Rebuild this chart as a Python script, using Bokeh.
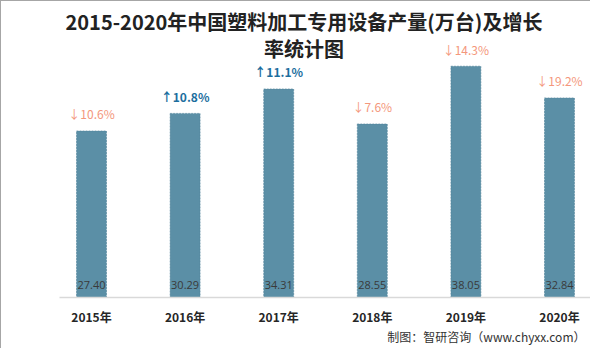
from bokeh.plotting import figure
from bokeh.models import ColumnDataSource, Range1d, Label, FactorRange, Title
from bokeh.core.properties import value
from bokeh.embed import file_html
from bokeh.resources import INLINE

years = ["2015年", "2016年", "2017年", "2018年", "2019年", "2020年"]
output = [27.40, 30.29, 34.31, 28.55, 38.05, 32.84]
growth = ["↓10.6%", "↑10.8%", "↑11.1%", "↓7.6%", "↓14.3%", "↓19.2%"]
growth_up = [False, True, True, False, False, False]

title1 = "2015-2020年中国塑料加工专用设备产量(万台)及增长"
title2 = "率统计图"
footer = "制图：智研咨询（www.chyxx.com）"

UP_COLOR = "#1c6e9e"
DOWN_COLOR = "#f4977c"

src = ColumnDataSource(dict(
    x=years,
    y=output,
    lab=["%.2f" % v for v in output],
    g=growth,
    gc=[UP_COLOR if u else DOWN_COLOR for u in growth_up],
    gw=["bold" if u else "normal" for u in growth_up],
))

xr = FactorRange(factors=years, range_padding=-0.158, range_padding_units="absolute")
p = figure(x_range=xr, y_range=Range1d(0, 48.7), width=590, height=348,
           output_backend="svg", toolbar_location=None,
           min_border_left=58, min_border_right=0, min_border_top=0, min_border_bottom=52)
p.outline_line_color = None
p.xgrid.grid_line_color = None
p.ygrid.grid_line_color = None
p.yaxis.visible = False
p.background_fill_color = "white"
p.border_fill_color = "white"
p.styles = {"border-left": "1px solid #a6a6a6", "border-top": "1px solid #a6a6a6"}

p.vbar(x="x", top="y", width=0.32, source=src, fill_color="#5b8fa6",
       line_color="#4f8299", line_dash="2 1", line_width=0.6)

p.text(x="x", y=0, text="lab", source=src, text_align="center", text_baseline="middle",
       y_offset=-13, text_font=value("Open Sans"), text_font_size="11px", text_color="#3a3a3a")

p.text(x="x", y="y", text="g", source=src, text_align="center", text_baseline="middle",
       y_offset=-17, text_font=value("Noto Sans CJK SC"), text_font_size="12px",
       text_color="gc", text_font_style="gw")

p.xaxis.axis_line_color = "#d9d9d9"
p.xaxis.axis_line_width = 1.5
p.xaxis.major_tick_line_color = None
p.xaxis.minor_tick_line_color = None
p.xaxis.major_tick_out = 0
p.xaxis.major_tick_in = 0
p.xaxis.major_label_standoff = 10
p.xaxis.major_label_text_font = "Noto Sans CJK SC"
p.xaxis.major_label_text_font_style = "bold"
p.xaxis.major_label_text_font_size = "12px"
p.xaxis.major_label_text_color = "#262626"

# title placed in the empty top area of the frame (x in synthetic category units)
p.add_layout(Label(x=0.222, y=45.4, text=title1,
                   text_align="left", text_baseline="middle", text_font="Noto Sans CJK SC",
                   text_font_style="bold", text_font_size="20px", text_color="#222222"))
p.add_layout(Label(x=2.343, y=41.0, text=title2,
                   text_align="left", text_baseline="middle", text_font="Noto Sans CJK SC",
                   text_font_style="bold", text_font_size="20px", text_color="#222222"))
p.add_layout(Title(text=footer, align="right", standoff=0, offset=6, text_font="Noto Sans CJK SC",
                   text_font_style="normal", text_font_size="12px", text_color="#333333",
                   text_line_height=1.0, vertical_align="top"),
             "below")

open("out.html", "w").write(file_html(p, INLINE))
